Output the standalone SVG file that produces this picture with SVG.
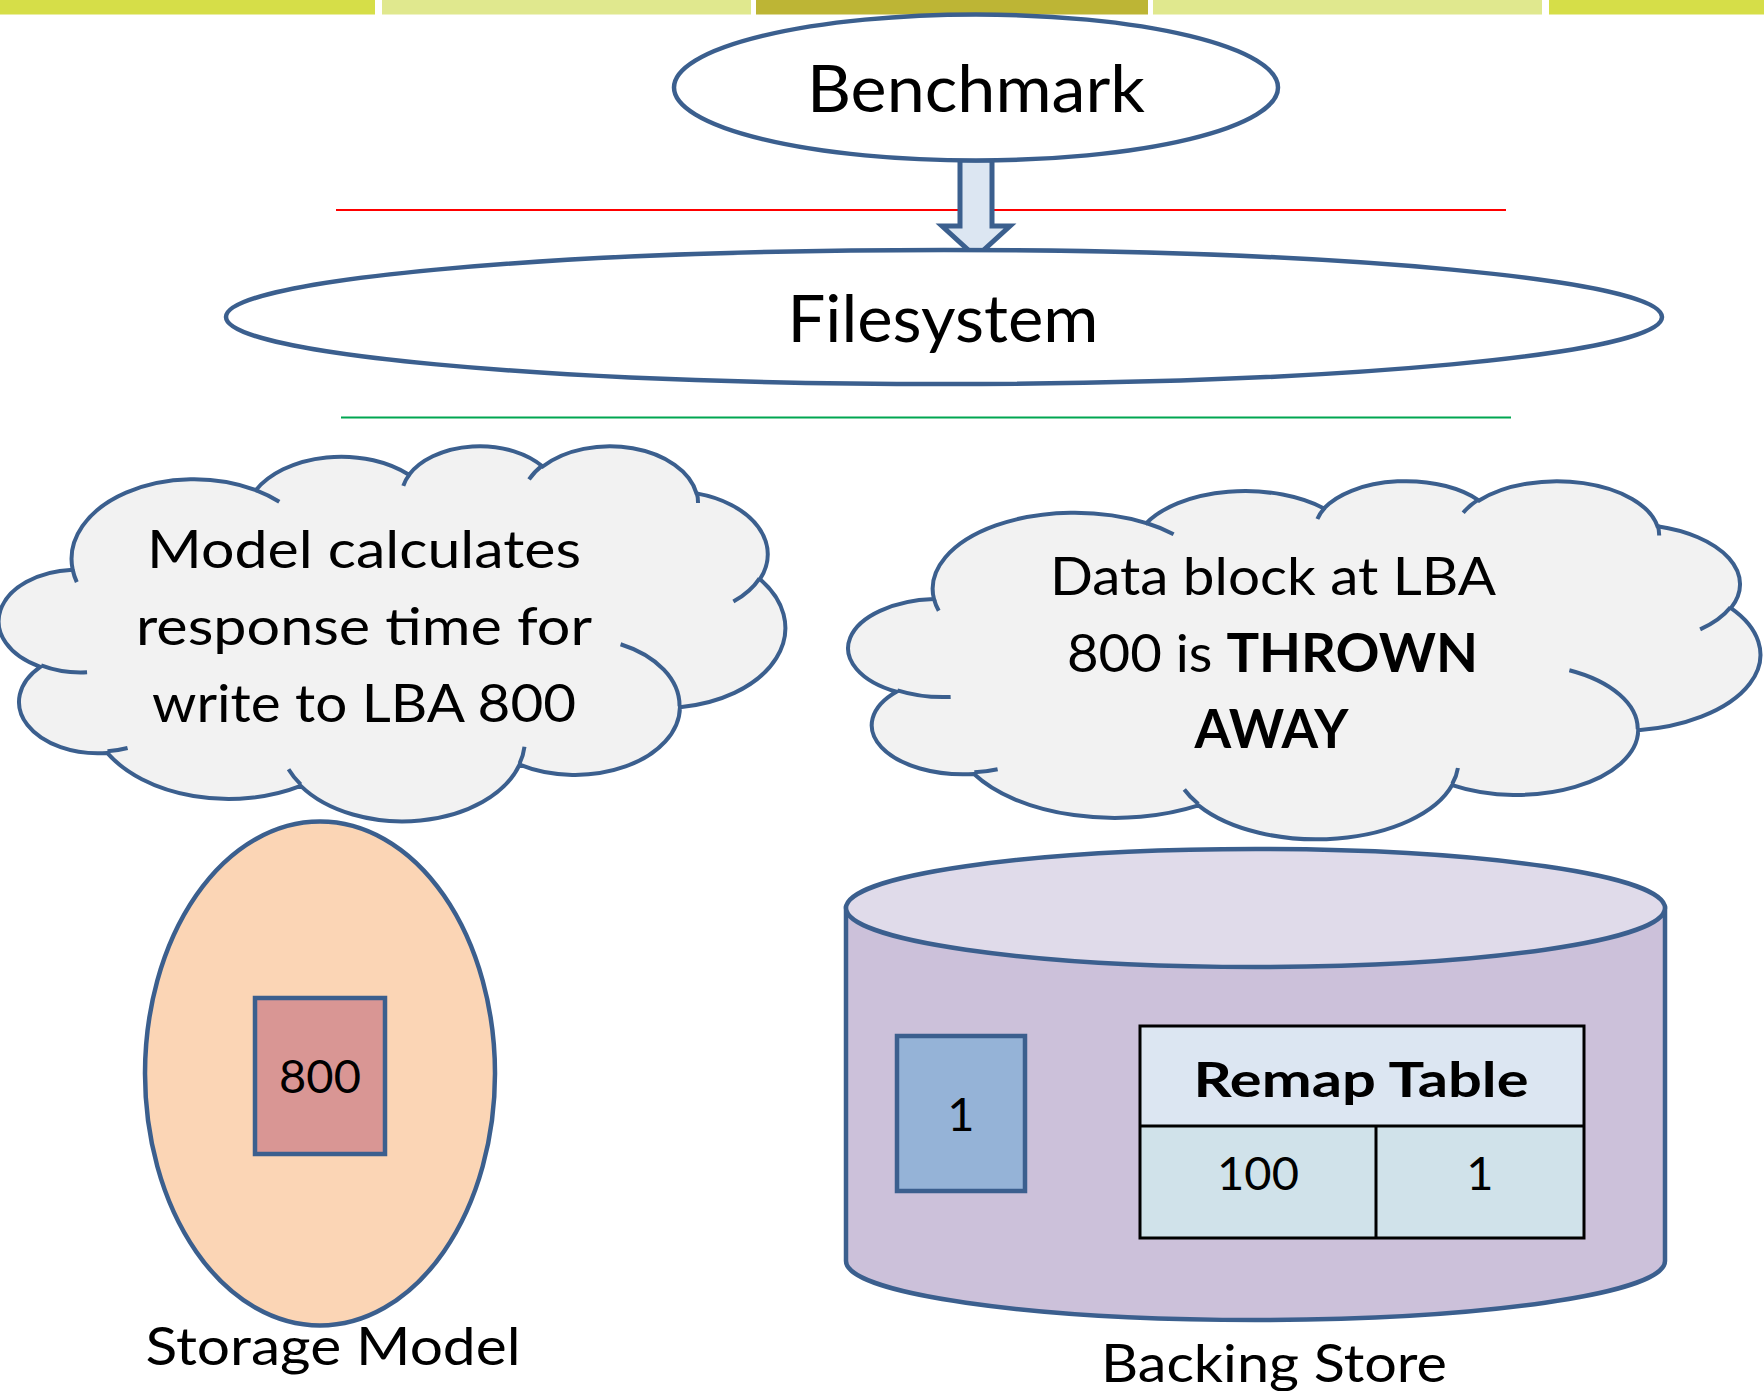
<svg xmlns="http://www.w3.org/2000/svg" width="1764" height="1391" viewBox="0 0 1764 1391">
<style>
text{font-family:Lato,"Liberation Sans",sans-serif;fill:#000;text-anchor:middle}
.big{font-size:65px}
.cl{font-size:53px}
.lbl{font-size:52px}
.num{font-size:47px}
.b{font-weight:bold}
.ln{stroke:#3b5f8e;stroke-width:4.5}
.cloud{fill:#f2f2f2;stroke:#3b5f8e;stroke-width:4;vector-effect:non-scaling-stroke}
.cin{fill:none;stroke:#3b5f8e;stroke-width:4;vector-effect:non-scaling-stroke}
</style>
<g id="topbar">
<rect x="0" y="0" width="375" height="14.5" fill="#d6de48"/>
<rect x="382" y="0" width="369" height="14.5" fill="#e0e88e"/>
<rect x="756" y="0" width="392" height="14.5" fill="#bdb535"/>
<rect x="1153" y="0" width="389" height="14.5" fill="#e0e88e"/>
<rect x="1549" y="0" width="215" height="14.5" fill="#d6de48"/>
</g>
<g id="layers">
<line x1="336" y1="210" x2="1506" y2="210" stroke="#ff0000" stroke-width="2.2"/>
<line x1="341" y1="417.5" x2="1511" y2="417.5" stroke="#00a651" stroke-width="2"/>
</g>
<g id="connectors">
<path d="M960 160V226H942L976 257L1010 226H992V160Z" fill="#dce6f2" stroke="#3b5f8e" stroke-width="5" stroke-linejoin="miter"/>
</g>
<g id="benchmark">
<ellipse cx="976" cy="87.5" rx="302" ry="73" fill="#fff" class="ln"/>
<text class="big" x="976" y="112" textLength="338" lengthAdjust="spacingAndGlyphs">Benchmark</text>
</g>
<g id="filesystem">
<ellipse cx="944" cy="317" rx="718" ry="67" fill="#fff" class="ln"/>
<text class="big" x="943" y="342" textLength="311" lengthAdjust="spacingAndGlyphs">Filesystem</text>
</g>
<g id="cloud-model">
<g transform="translate(2 445) scale(0.018125 0.0086806)">
<path class="cloud" d="M3900 14370A6753 9190 0 0 1 14005 5202A5333 7267 0 0 1 22455 3432A4365 5945 0 0 1 29833 2480A4857 6595 0 0 1 38318 5575A5333 7273 0 0 1 41818 15460A6775 9220 0 0 1 37404 30202A5785 7867 0 0 1 28555 36812A6752 9215 0 0 1 16481 39266A7720 10543 0 0 1 5806 35473A4360 5918 0 0 1 2115 25551A4345 5945 0 0 1 3900 14370Z"/>
<path class="cin" d="M4693 26177A4345 5945 0 0 1 2160 25380M6928 34899A4360 5918 0 0 1 5820 35280M16478 39090A6752 9215 0 0 1 15809 37347M28827 34751A6752 9215 0 0 1 28560 36660M34129 22954A5785 7867 0 0 1 37381 30090M41798 15354A5333 7273 0 0 1 40351 18029M38324 5426A4857 6595 0 0 1 38400 6690M29078 3952A4857 6595 0 0 1 29820 2340M22141 4720A4365 5945 0 0 1 22500 3330M14000 5192A6753 9190 0 0 1 15300 6541M4127 15789A6753 9190 0 0 1 3900 14371"/>
</g>
<text class="cl" x="364" y="568" textLength="434" lengthAdjust="spacingAndGlyphs">Model calculates</text>
<text class="cl" x="364" y="645" textLength="456" lengthAdjust="spacingAndGlyphs">response time for</text>
<text class="cl" x="364" y="722" textLength="424" lengthAdjust="spacingAndGlyphs">write to LBA 800</text>
</g>
<g id="cloud-backing">
<g transform="translate(852 480) scale(0.021019 0.0082870)">
<path class="cloud" d="M3900 14370A6753 9190 0 0 1 14005 5202A5333 7267 0 0 1 22455 3432A4365 5945 0 0 1 29833 2480A4857 6595 0 0 1 38318 5575A5333 7273 0 0 1 41818 15460A6775 9220 0 0 1 37404 30202A5785 7867 0 0 1 28555 36812A6752 9215 0 0 1 16481 39266A7720 10543 0 0 1 5806 35473A4360 5918 0 0 1 2115 25551A4345 5945 0 0 1 3900 14370Z"/>
<path class="cin" d="M4693 26177A4345 5945 0 0 1 2160 25380M6928 34899A4360 5918 0 0 1 5820 35280M16478 39090A6752 9215 0 0 1 15809 37347M28827 34751A6752 9215 0 0 1 28560 36660M34129 22954A5785 7867 0 0 1 37381 30090M41798 15354A5333 7273 0 0 1 40351 18029M38324 5426A4857 6595 0 0 1 38400 6690M29078 3952A4857 6595 0 0 1 29820 2340M22141 4720A4365 5945 0 0 1 22500 3330M14000 5192A6753 9190 0 0 1 15300 6541M4127 15789A6753 9190 0 0 1 3900 14371"/>
</g>
<text class="cl" x="1273" y="595" textLength="446" lengthAdjust="spacingAndGlyphs">Data block at LBA</text>
<text class="cl" x="1272.5" y="672" textLength="411" lengthAdjust="spacingAndGlyphs">800 is <tspan class="b">THROWN</tspan></text>
<text class="cl b" x="1271.5" y="748" textLength="154" lengthAdjust="spacingAndGlyphs">AWAY</text>
</g>
<g id="storage-model">
<ellipse cx="320" cy="1073.5" rx="175" ry="252" fill="#fbd5b5" class="ln"/>
<rect x="255" y="998" width="130" height="156" fill="#d99694" stroke="#3b5f8e" stroke-width="4.5"/>
<text class="num" x="320" y="1093">800</text>
<text class="lbl" x="333" y="1365" textLength="375" lengthAdjust="spacingAndGlyphs">Storage Model</text>
</g>
<g id="backing-store">
<path d="M846 908V1261A409.5 59 0 0 0 1665 1261V908Z" fill="#ccc1da" class="ln"/>
<ellipse cx="1255.5" cy="908" rx="409.5" ry="59" fill="#e0dbea" class="ln"/>
<rect x="897" y="1036" width="128" height="155" fill="#95b3d7" stroke="#3b5f8e" stroke-width="4.5"/>
<text class="num" x="961" y="1131">1</text>
<text class="lbl" x="1274" y="1382" textLength="346" lengthAdjust="spacingAndGlyphs">Backing Store</text>
</g>
<g id="remap-table">
<rect x="1140" y="1026" width="444" height="100" fill="#dce6f2"/>
<rect x="1140" y="1126" width="444" height="112" fill="#d0e2ea"/>
<rect x="1140" y="1026" width="444" height="212" fill="none" stroke="#000" stroke-width="3"/>
<line x1="1140" y1="1126" x2="1584" y2="1126" stroke="#000" stroke-width="3"/>
<line x1="1376" y1="1126" x2="1376" y2="1238" stroke="#000" stroke-width="3"/>
<text class="num b" x="1361" y="1097" textLength="335" lengthAdjust="spacingAndGlyphs">Remap Table</text>
<text class="num" x="1258" y="1190">100</text>
<text class="num" x="1480" y="1190">1</text>
</g>
</svg>
